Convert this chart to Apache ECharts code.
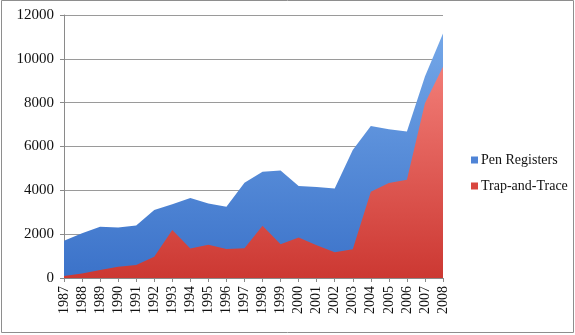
<!DOCTYPE html>
<html>
<head>
<meta charset="utf-8">
<script src="https://cdn.jsdelivr.net/npm/echarts@6/dist/echarts.min.js"></script>
<style>
  html, body { margin: 0; padding: 0; background: #fff; }
  #chart { width: 575px; height: 335px; }
</style>
</head>
<body>
<div id="chart"></div>
<script>
// Yearly order counts, 1987–2008
const years = ['1987','1988','1989','1990','1991','1992','1993','1994','1995','1996','1997',
               '1998','1999','2000','2001','2002','2003','2004','2005','2006','2007','2008'];
const penRegisters = [1700, 2040, 2340, 2300, 2390, 3100, 3370, 3650, 3400, 3250, 4350,
                      4850, 4910, 4200, 4150, 4080, 5840, 6940, 6790, 6680, 9190, 11160];
const trapAndTrace = [90, 210, 360, 510, 590, 970, 2190, 1350, 1520, 1320, 1360,
                      2380, 1540, 1850, 1500, 1180, 1310, 3940, 4330, 4480, 7970, 9640];
const yTicks = { min: 0, max: 12000, interval: 2000 };

const serif = '"Liberation Serif", "DejaVu Serif", serif';

const chart = echarts.init(document.getElementById('chart'), null, { renderer: 'canvas' });

chart.setOption({
  animation: false,
  backgroundColor: '#fff',
  graphic: [{
    type: 'rect',
    shape: { x: 1.5, y: 0.5, width: 572, height: 332 },
    style: { fill: 'none', stroke: '#8e8e8e', lineWidth: 1 },
    silent: true
  }],
  grid: { left: 64, right: 132, top: 15, bottom: 57 },
  legend: {
    orient: 'vertical',
    left: 466,
    top: 148,
    itemWidth: 7,
    itemHeight: 7,
    itemGap: 12,
    icon: 'rect',
    textStyle: { fontFamily: serif, fontSize: 14, color: '#111', padding: [0, 0, 0, -2] },
    data: [
      { name: 'Pen Registers', itemStyle: { color: '#4f84d6' } },
      { name: 'Trap-and-Trace', itemStyle: { color: '#d9463f' } }
    ]
  },
  xAxis: {
    type: 'category',
    data: years,
    boundaryGap: false,
    axisLine: { show: true, lineStyle: { color: '#8a8a8a' } },
    axisTick: { show: true, length: 4, alignWithLabel: true, lineStyle: { color: '#8a8a8a' } },
    axisLabel: {
      rotate: 90,
      interval: 0,
      margin: 8,
      fontFamily: serif,
      fontSize: 14,
      color: '#111'
    },
    splitLine: { show: false }
  },
  yAxis: {
    type: 'value',
    min: yTicks.min,
    max: yTicks.max,
    interval: yTicks.interval,
    axisLine: { show: true, lineStyle: { color: '#8a8a8a' } },
    axisTick: { show: true, length: 4, lineStyle: { color: '#8a8a8a' } },
    axisLabel: {
      fontFamily: serif,
      fontSize: 15,
      color: '#111',
      margin: 10,
      formatter: (v) => String(v)
    },
    splitLine: { show: true, lineStyle: { color: '#9a9a9a', width: 1 } }
  },
  series: [
    {
      name: 'Pen Registers',
      type: 'line',
      data: penRegisters,
      symbol: 'none',
      lineStyle: { width: 0 },
      areaStyle: {
        opacity: 1,
        color: new echarts.graphic.LinearGradient(0, 0, 0, 1, [
          { offset: 0, color: '#74a7e8' },
          { offset: 1, color: '#3b72c9' }
        ])
      },
      z: 2
    },
    {
      name: 'Trap-and-Trace',
      type: 'line',
      data: trapAndTrace,
      symbol: 'none',
      lineStyle: { width: 0 },
      areaStyle: {
        opacity: 1,
        color: new echarts.graphic.LinearGradient(0, 0, 0, 1, [
          { offset: 0, color: '#f27d77' },
          { offset: 1, color: '#cc3832' }
        ])
      },
      z: 3
    }
  ]
});
</script>
</body>
</html>
